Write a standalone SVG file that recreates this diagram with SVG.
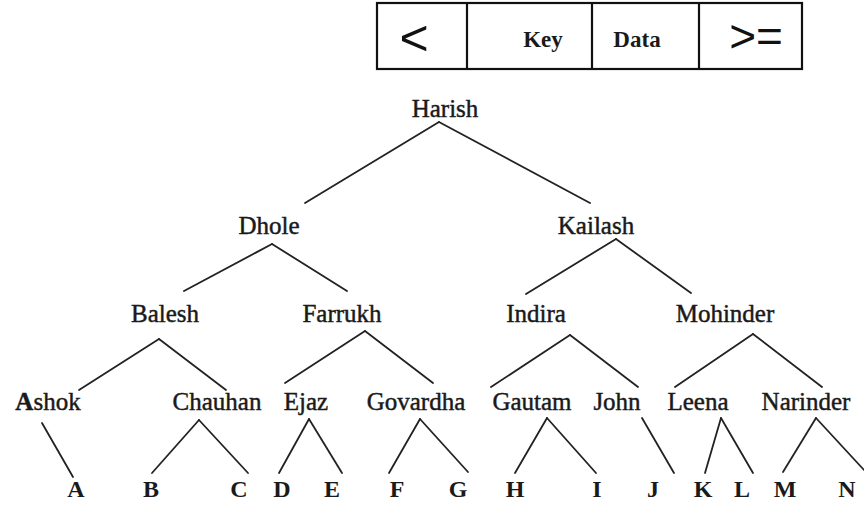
<svg xmlns="http://www.w3.org/2000/svg" width="864" height="508" viewBox="0 0 864 508">
<style>
  .n { font-family: "Liberation Serif", "Times New Roman", serif; font-size: 25px; fill: #1a1a1a; stroke: #1a1a1a; stroke-width: 0.45px; text-anchor: middle; }
  .leaf { font-family: "Liberation Serif", "Times New Roman", serif; font-size: 24px; font-weight: bold; fill: #1a1a1a; text-anchor: middle; }
  .k { font-family: "Liberation Serif", "Times New Roman", serif; font-size: 23px; font-weight: bold; fill: #1a1a1a; text-anchor: middle; }
  .sym { font-family: "Liberation Sans", Arial, sans-serif; fill: #111; text-anchor: middle; }
  .box { fill: none; stroke: #111; stroke-width: 2.2; }
  .e { stroke: #222; stroke-width: 1.8; fill: none; stroke-linecap: round; }
</style>
<rect width="864" height="508" fill="#ffffff"/>

<g id="legend">
  <rect class="box" x="377" y="3" width="425" height="66"/>
  <line class="box" x1="467" y1="3" x2="467" y2="69"/>
  <line class="box" x1="592" y1="3" x2="592" y2="69"/>
  <line class="box" x1="699" y1="3" x2="699" y2="69"/>
  <text class="sym" x="414" y="55" font-size="50">&lt;</text>
  <text class="k" x="543" y="47">Key</text>
  <text class="k" x="637" y="47">Data</text>
  <text class="sym" x="756" y="52" font-size="46">&gt;=</text>
</g>

<g id="connectors">
  <line class="e" x1="439" y1="122" x2="305" y2="203"/>
  <line class="e" x1="439" y1="122" x2="590" y2="203"/>
  <line class="e" x1="272" y1="244" x2="184" y2="291"/>
  <line class="e" x1="272" y1="244" x2="347" y2="291"/>
  <line class="e" x1="616" y1="239" x2="526" y2="294"/>
  <line class="e" x1="616" y1="239" x2="691" y2="293"/>
  <line class="e" x1="159" y1="339" x2="79" y2="390"/>
  <line class="e" x1="159" y1="339" x2="226" y2="390"/>
  <line class="e" x1="365" y1="331" x2="285" y2="383"/>
  <line class="e" x1="365" y1="331" x2="433" y2="383"/>
  <line class="e" x1="570" y1="335" x2="491" y2="387"/>
  <line class="e" x1="570" y1="335" x2="638" y2="387"/>
  <line class="e" x1="753" y1="334" x2="675" y2="387"/>
  <line class="e" x1="753" y1="334" x2="822" y2="387"/>
  <line class="e" x1="42" y1="423" x2="73" y2="477"/>
  <line class="e" x1="199" y1="420" x2="152" y2="473"/>
  <line class="e" x1="199" y1="420" x2="248" y2="473"/>
  <line class="e" x1="309" y1="419" x2="279" y2="473"/>
  <line class="e" x1="309" y1="419" x2="342" y2="473"/>
  <line class="e" x1="420" y1="419" x2="389" y2="473"/>
  <line class="e" x1="420" y1="419" x2="468" y2="472"/>
  <line class="e" x1="547" y1="418" x2="515" y2="473"/>
  <line class="e" x1="547" y1="418" x2="596" y2="473"/>
  <line class="e" x1="642" y1="418" x2="674" y2="473"/>
  <line class="e" x1="721" y1="418" x2="705" y2="473"/>
  <line class="e" x1="721" y1="418" x2="753" y2="473"/>
  <line class="e" x1="816" y1="418" x2="783" y2="472"/>
  <line class="e" x1="816" y1="418" x2="864" y2="470"/>
</g>

<g id="node-harish"><text class="n" x="445" y="117">Harish</text></g>
<g id="node-dhole"><text class="n" x="269" y="234">Dhole</text></g>
<g id="node-kailash"><text class="n" x="596" y="234">Kailash</text></g>
<g id="node-balesh"><text class="n" x="165" y="322">Balesh</text></g>
<g id="node-farrukh"><text class="n" x="342" y="322">Farrukh</text></g>
<g id="node-indira"><text class="n" x="536" y="322">Indira</text></g>
<g id="node-mohinder"><text class="n" x="725" y="322">Mohinder</text></g>
<g id="node-ashok"><text class="n" x="48" y="410"><tspan font-weight="bold">A</tspan>shok</text></g>
<g id="node-chauhan"><text class="n" x="217" y="410">Chauhan</text></g>
<g id="node-ejaz"><text class="n" x="306" y="410">Ejaz</text></g>
<g id="node-govardha"><text class="n" x="416" y="410">Govardha</text></g>
<g id="node-gautam"><text class="n" x="532" y="410">Gautam</text></g>
<g id="node-john"><text class="n" x="617" y="410">John</text></g>
<g id="node-leena"><text class="n" x="698" y="410">Leena</text></g>
<g id="node-narinder"><text class="n" x="806" y="410">Narinder</text></g>

<g id="leaf-a"><text class="leaf" x="76" y="497">A</text></g>
<g id="leaf-b"><text class="leaf" x="151" y="497">B</text></g>
<g id="leaf-c"><text class="leaf" x="239" y="497">C</text></g>
<g id="leaf-d"><text class="leaf" x="282" y="497">D</text></g>
<g id="leaf-e"><text class="leaf" x="332" y="497">E</text></g>
<g id="leaf-f"><text class="leaf" x="397" y="497">F</text></g>
<g id="leaf-g"><text class="leaf" x="458" y="497">G</text></g>
<g id="leaf-h"><text class="leaf" x="515" y="497">H</text></g>
<g id="leaf-i"><text class="leaf" x="597" y="497">I</text></g>
<g id="leaf-j"><text class="leaf" x="653" y="497">J</text></g>
<g id="leaf-k"><text class="leaf" x="703" y="497">K</text></g>
<g id="leaf-l"><text class="leaf" x="742" y="497">L</text></g>
<g id="leaf-m"><text class="leaf" x="785" y="497">M</text></g>
<g id="leaf-n"><text class="leaf" x="847" y="497">N</text></g>
</svg>
